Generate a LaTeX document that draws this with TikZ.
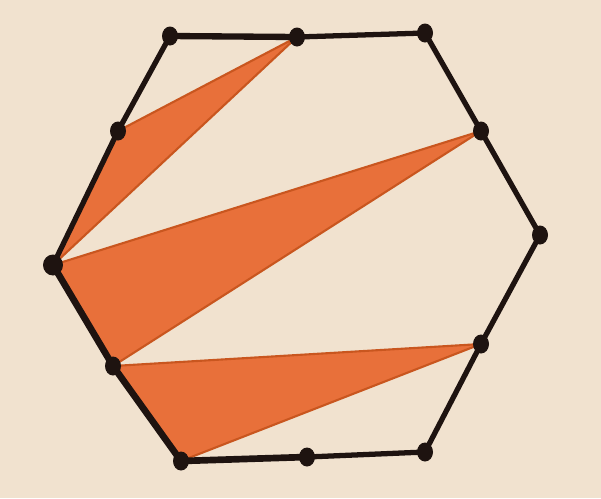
\documentclass[tikz,border=0pt]{standalone}
\usepackage{tikz}
\usetikzlibrary{calc,shapes.geometric}
\definecolor{paper}{HTML}{F1E2CF}
\definecolor{ink}{HTML}{1E1310}
\definecolor{orangefill}{HTML}{E8703A}
\definecolor{orangeedge}{HTML}{C9561F}

\begin{document}
\begin{tikzpicture}[x=0.02cm,y=-0.02cm,
  d/.style={ellipse,fill=ink,inner sep=0pt,minimum width=0.32cm,minimum height=0.38cm},
  e/.style={draw=ink,line width=3pt,line cap=round},
  t/.style={fill=orangefill,draw=orangeedge,line width=1.2pt,line join=round}]
  \fill[paper] (0,0) rectangle (601,498);
  \useasboundingbox (0,0) rectangle (601,498);
  % points on the hexagon
  \coordinate (tl) at (170,36);  \coordinate (tm) at (297,37);  \coordinate (tr) at (425,33);
  \coordinate (urm) at (481,131); \coordinate (r) at (540,235); \coordinate (lrm) at (481,344);
  \coordinate (br) at (425,452); \coordinate (bm) at (307,457); \coordinate (bl) at (181,461);
  \coordinate (llm) at (113,366); \coordinate (l) at (53,265);  \coordinate (ulm) at (118,131);
  % shaded triangles
  \filldraw[t] (l) -- (ulm) -- (tm) -- cycle;
  \filldraw[t] (l) -- (urm) -- (llm) -- cycle;
  \filldraw[t] (llm) -- (lrm) -- (bl) -- cycle;
  % sides
  \draw[e,line width=3.6pt] (tl) -- (tm);
  \draw[e] (tm) -- (tr) -- (urm) -- (r) -- (lrm) -- (br) -- (bm);
  \draw[e,line width=3.8pt] (bm) -- (bl) -- (llm) -- (l);
  \draw[e] (l) -- (ulm) -- (tl);
  % dots
  \foreach \p in {tl,tm,tr,urm,r,lrm,br,bm,bl,llm,ulm}
    \node[d] (n\p) at (\p) {};
  \node[d,minimum width=0.4cm,minimum height=0.42cm] (nl) at (l) {};
\end{tikzpicture}
\end{document}
